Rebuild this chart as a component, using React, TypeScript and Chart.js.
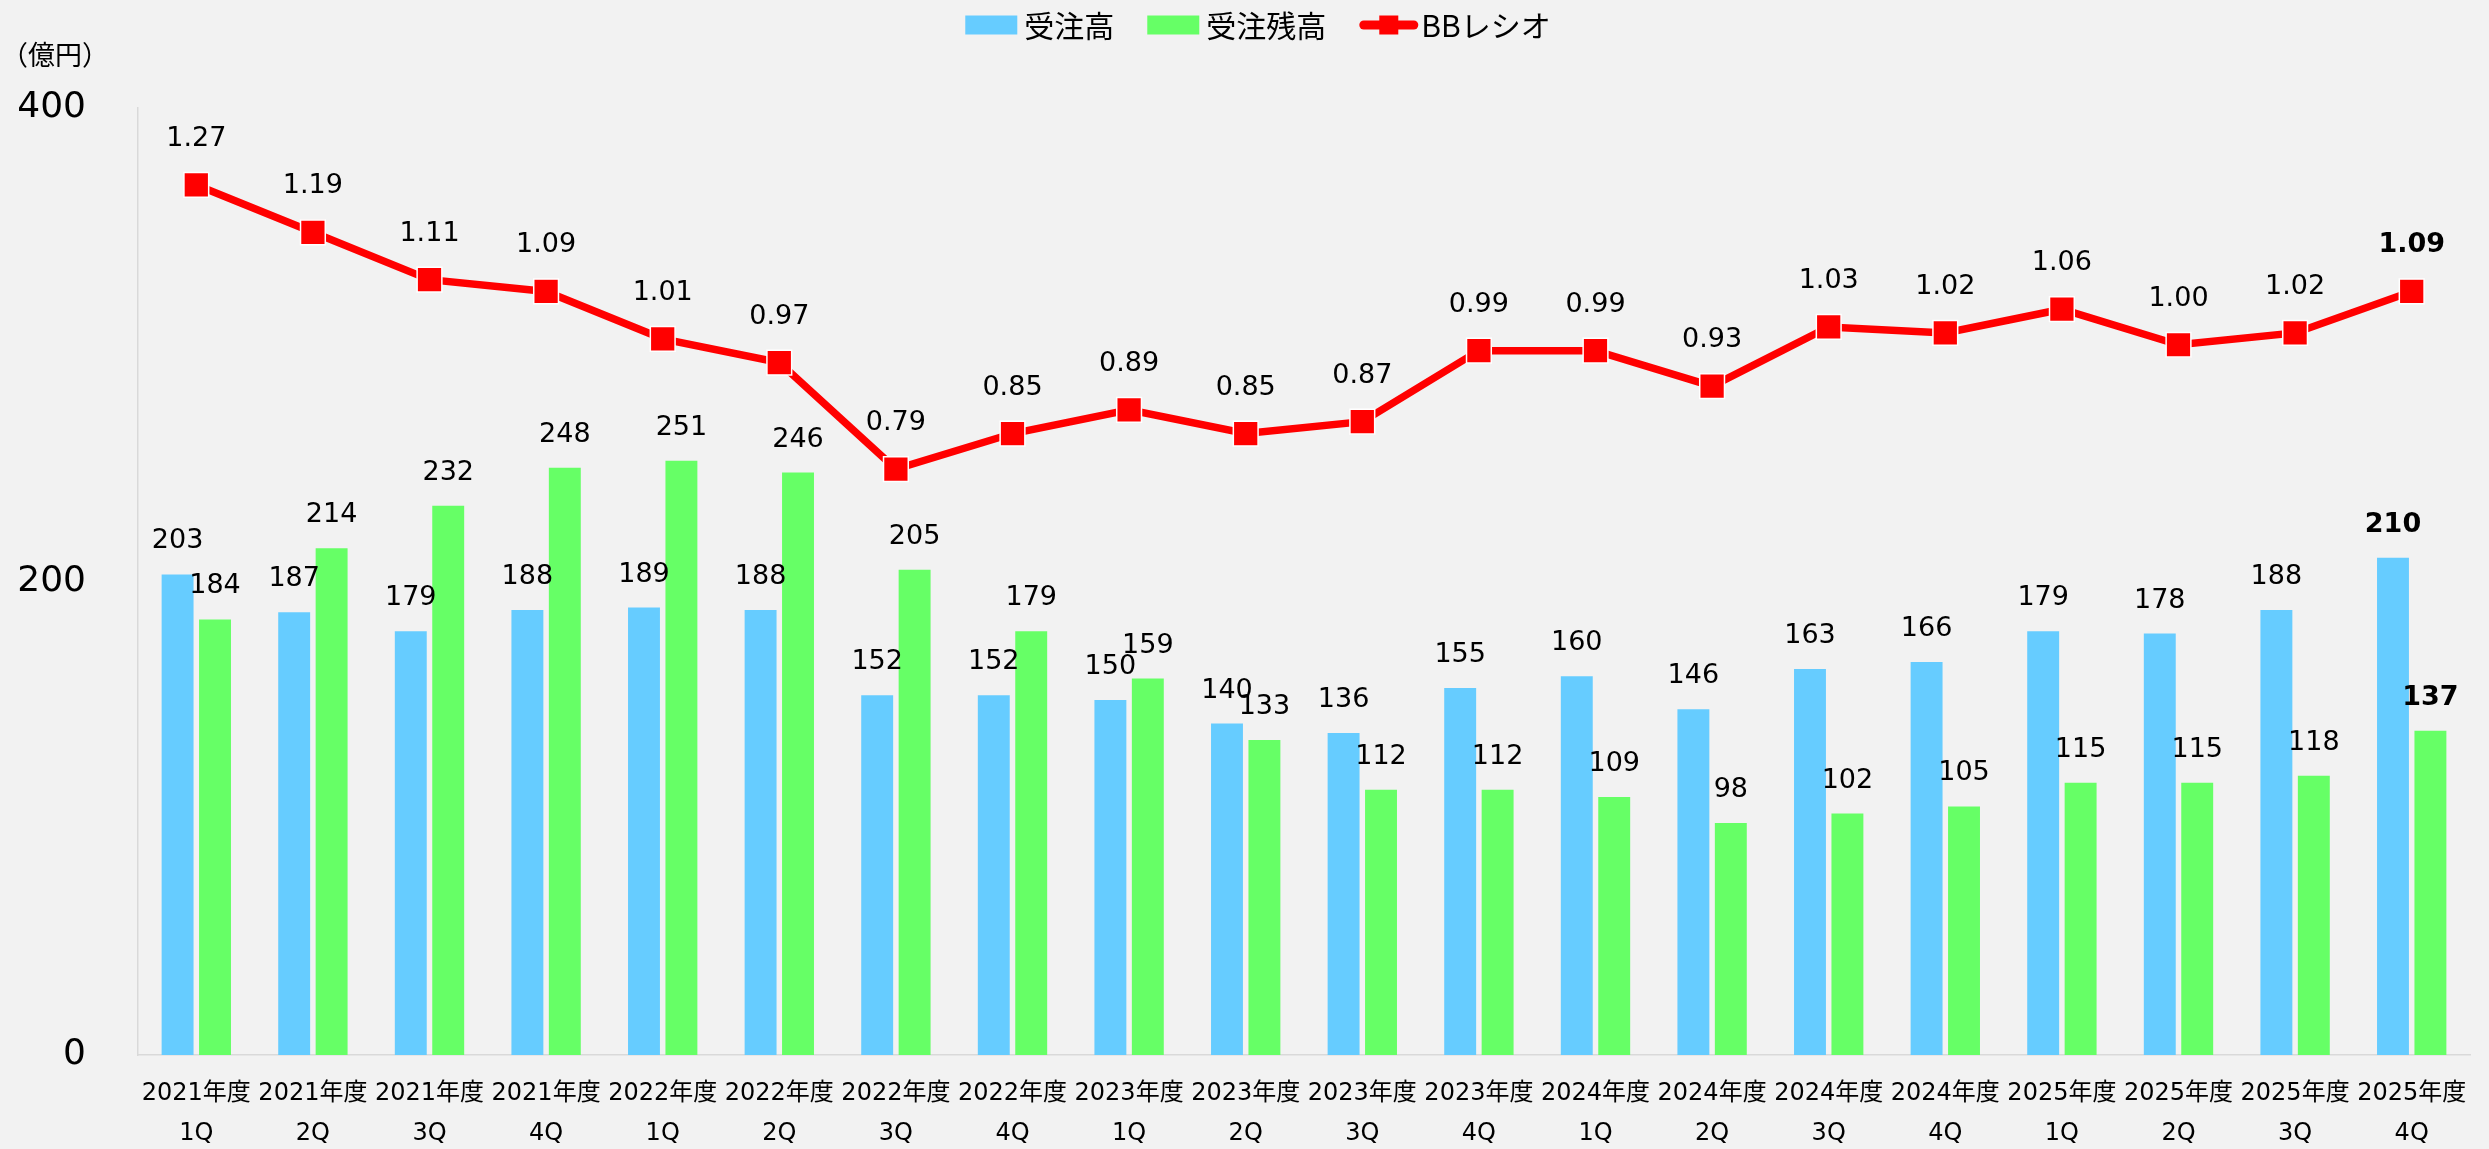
import React, { useEffect, useRef } from 'react';
import { Chart, registerables } from 'chart.js';

Chart.register(...registerables);

const FAMILY = "'DejaVu Sans', 'Noto Sans CJK JP', sans-serif";
const CJK_FAMILY = "'Noto Sans CJK JP', 'DejaVu Sans', sans-serif";

const yearLabels = [
  '2021年度', '2021年度', '2021年度', '2021年度',
  '2022年度', '2022年度', '2022年度', '2022年度',
  '2023年度', '2023年度', '2023年度', '2023年度',
  '2024年度', '2024年度', '2024年度', '2024年度',
  '2025年度', '2025年度', '2025年度', '2025年度',
];
const quarterLabels = [
  '1Q', '2Q', '3Q', '4Q', '1Q', '2Q', '3Q', '4Q', '1Q', '2Q',
  '3Q', '4Q', '1Q', '2Q', '3Q', '4Q', '1Q', '2Q', '3Q', '4Q',
];
const ordersReceived = [203, 187, 179, 188, 189, 188, 152, 152, 150, 140, 136, 155, 160, 146, 163, 166, 179, 178, 188, 210];
const orderBacklog = [184, 214, 232, 248, 251, 246, 205, 179, 159, 133, 112, 112, 109, 98, 102, 105, 115, 115, 118, 137];
const bbRatio = [1.27, 1.19, 1.11, 1.09, 1.01, 0.97, 0.79, 0.85, 0.89, 0.85, 0.87, 0.99, 0.99, 0.93, 1.03, 1.02, 1.06, 1.0, 1.02, 1.09];
const seriesNames = ['受注高', '受注残高', 'BBレシオ'];
const yTickValues = [0, 200, 400];
const unitLabel = '（億円）';

const BLUE = '#66CCFF';
const GREEN = '#66FF66';
const RED = '#FF0000';

const backgroundPlugin = {
  id: 'bgFill',
  beforeDraw(chart: any) {
    const ctx = chart.ctx;
    ctx.save();
    ctx.fillStyle = '#F2F2F2';
    ctx.fillRect(0, 0, chart.width, chart.height);
    ctx.restore();
  },
};

const dataLabelPlugin = {
  id: 'dataLabels',
  afterDatasetsDraw(chart: any) {
    const ctx = chart.ctx;
    ctx.save();
    ctx.textAlign = 'center';
    ctx.textBaseline = 'middle';
    ctx.fillStyle = '#000000';
    chart.data.datasets.forEach((ds: any, di: number) => {
      const meta = chart.getDatasetMeta(di);
      const isLine = ds.type === 'line';
      meta.data.forEach((el: any, i: number) => {
        const v = ds.data[i];
        const last = i === ds.data.length - 1;
        ctx.font = `${last ? 'bold ' : ''}27px ${FAMILY}`;
        const text = isLine ? Number(v).toFixed(2) : String(v);
        ctx.fillText(text, el.x, el.y - (isLine ? 46 : 33));
      });
    });
    ctx.restore();
  },
};

const legendPlugin = {
  id: 'customLegend',
  afterDraw(chart: any) {
    const ctx = chart.ctx;
    ctx.save();
    ctx.font = `30px ${CJK_FAMILY}`;
    ctx.textBaseline = 'middle';
    ctx.textAlign = 'left';
    const ds = chart.data.datasets;
    const items = ds.map((d: any) => {
      const isLine = d.type === 'line';
      const sym = isLine ? 59 : 52;
      const gap = isLine ? 3 : 7;
      const tw = ctx.measureText(d.label).width;
      return { d, isLine, sym, gap, tw, w: sym + gap + tw };
    });
    const itemGap = 33;
    const total = items.reduce((a: number, it: any) => a + it.w, 0) + itemGap * (items.length - 1);
    const centerX = 1258;
    const cy = 25;
    let x = centerX - total / 2;
    items.forEach((it: any) => {
      if (it.isLine) {
        ctx.strokeStyle = it.d.borderColor;
        ctx.lineWidth = 9;
        ctx.lineCap = 'round';
        ctx.beginPath();
        ctx.moveTo(x + 4.5, cy);
        ctx.lineTo(x + it.sym - 4.5, cy);
        ctx.stroke();
        ctx.fillStyle = it.d.pointBackgroundColor;
        ctx.fillRect(x + it.sym / 2 - 9.5, cy - 9.5, 19, 19);
      } else {
        ctx.fillStyle = it.d.backgroundColor;
        ctx.fillRect(x, cy - 9.5, it.sym, 19);
      }
      ctx.fillStyle = '#000000';
      ctx.fillText(it.d.label, x + it.sym + it.gap, cy + 1);
      x += it.w + itemGap;
    });
    // unit label above y axis
    ctx.font = `27px ${CJK_FAMILY}`;
    ctx.textAlign = 'center';
    ctx.fillText(unitLabel, 55, 55);
    ctx.restore();
  },
};

export default function App() {
  const canvasRef = useRef<HTMLCanvasElement | null>(null);

  useEffect(() => {
    document.body.style.margin = '0';
    document.body.style.background = '#F2F2F2';
    const canvas = canvasRef.current;
    if (!canvas) return;
    const labels = yearLabels.map((y, i) => [y, quarterLabels[i]]);
    const chart = new Chart(canvas, {
      type: 'bar',
      data: {
        labels,
        datasets: [
          {
            type: 'bar',
            label: seriesNames[0],
            data: ordersReceived,
            backgroundColor: BLUE,
            borderWidth: 0,
            yAxisID: 'y',
            order: 1,
            categoryPercentage: 0.642,
            barPercentage: 0.853,
          },
          {
            type: 'bar',
            label: seriesNames[1],
            data: orderBacklog,
            backgroundColor: GREEN,
            borderWidth: 0,
            yAxisID: 'y',
            order: 1,
            categoryPercentage: 0.642,
            barPercentage: 0.853,
          },
          {
            type: 'line',
            label: seriesNames[2],
            data: bbRatio,
            borderColor: RED,
            backgroundColor: RED,
            borderWidth: 7.5,
            pointStyle: 'rect',
            pointRadius: 17.5,
            pointBackgroundColor: RED,
            pointBorderColor: '#FFFFFF',
            pointBorderWidth: 1.5,
            tension: 0,
            yAxisID: 'y1',
            order: 0,
          } as any,
        ],
      },
      options: {
        responsive: false,
        animation: false,
        layout: { padding: { left: 0, right: 14, top: 108, bottom: 0 } },
        plugins: {
          legend: { display: false },
          tooltip: { enabled: false },
        },
        scales: {
          x: {
            grid: { display: false, drawTicks: false },
            border: { display: true, color: '#D9D9D9', width: 1.5 },
            ticks: {
              autoSkip: false,
              maxRotation: 0,
              padding: 19,
              color: '#000000',
              font: { family: FAMILY, size: 24, lineHeight: 40 / 24 },
            },
            afterFit(scale: any) {
              scale.height = 94;
            },
          },
          y: {
            position: 'left',
            min: 0,
            max: 400,
            afterBuildTicks(scale: any) {
              scale.ticks = yTickValues.map((v) => ({ value: v }));
            },
            grid: { display: false, drawTicks: false },
            border: { display: true, color: '#D9D9D9', width: 1.5 },
            ticks: {
              padding: 52,
              color: '#000000',
              font: { family: FAMILY, size: 36 },
            },
            afterFit(scale: any) {
              scale.width = 138;
            },
          },
          y1: {
            display: false,
            min: -0.2,
            max: 1.4,
          },
        },
      },
      plugins: [backgroundPlugin, dataLabelPlugin, legendPlugin],
    } as any);
    return () => chart.destroy();
  }, []);

  return (
    <div style={{ width: 2489, height: 1149, background: '#F2F2F2' }}>
      <canvas ref={canvasRef} width={2489} height={1149} style={{ display: 'block' }} />
    </div>
  );
}
